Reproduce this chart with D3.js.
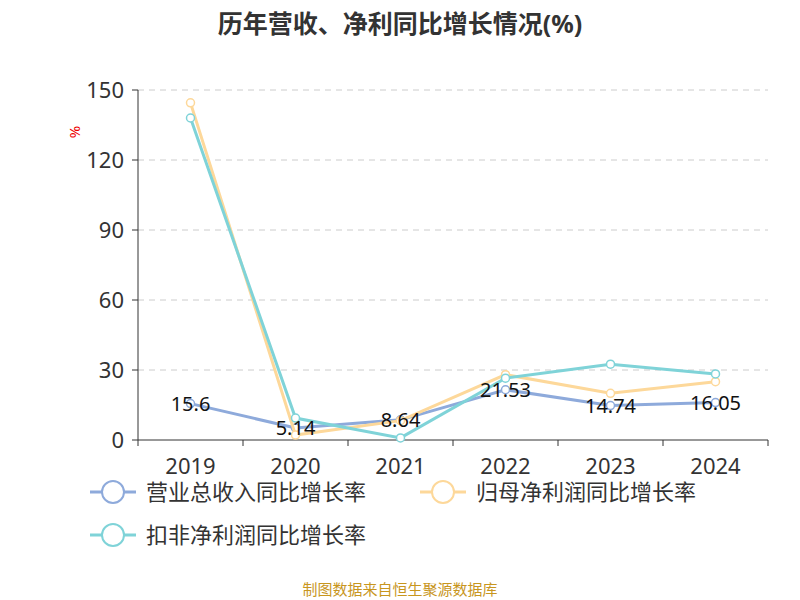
<!DOCTYPE html>
<html><head><meta charset="utf-8">
<script src="https://cdn.jsdelivr.net/npm/d3@7/dist/d3.min.js"></script>
<style>body{margin:0;background:#fff;font-family:"Noto Sans","Noto Sans CJK SC",sans-serif;}</style>
</head><body>
<svg id="chart" width="800" height="600"></svg>
<script>
// Chart data
var YEARS = ['2019', '2020', '2021', '2022', '2023', '2024'];
var REVENUE = [15.6, 5.14, 8.64, 21.53, 14.74, 16.05];
var NET_PROFIT = [144.5, 2.1, 8.3, 28, 20, 25];
var DEDUCTED = [138, 9.4, 0.9, 26.5, 32.5, 28.3];
var Y_TICKS = [0, 30, 60, 90, 120, 150];
var NAMES = ['营业总收入同比增长率', '归母净利润同比增长率', '扣非净利润同比增长率'];
var COLORS = ['#8eaadb', '#fdd89a', '#7fd3d8'];

let svg = d3.select('#chart');

let x = d3.scaleBand().domain(YEARS).range([138, 768]);
let y = d3.scaleLinear().domain([0, 150]).range([440, 90]);

// Title
svg.append('text').attr('x', 400).attr('y', 33).attr('text-anchor', 'middle')
	.attr('font-size', 25).attr('font-weight', 'bold').attr('fill', '#333')
	.text('历年营收、净利同比增长情况(%)');

// Grid
svg.selectAll('.grid').data(Y_TICKS.slice(1)).enter().append('line')
	.attr('x1', 138).attr('x2', 768).attr('y1', d => y(d)).attr('y2', d => y(d))
	.attr('stroke', '#ccc').attr('stroke-dasharray', '6,5');

// Y axis
svg.append('line').attr('x1', 138).attr('x2', 138).attr('y1', 90).attr('y2', 440).attr('stroke', '#333');
svg.selectAll('.ytick').data(Y_TICKS).enter().append('line')
	.attr('x1', 132).attr('x2', 138).attr('y1', d => y(d)).attr('y2', d => y(d)).attr('stroke', '#333');
svg.selectAll('.ylab').data(Y_TICKS).enter().append('text')
	.attr('x', 124).attr('y', d => y(d) + 8).attr('text-anchor', 'end')
	.attr('font-size', 22).attr('fill', '#333').text(d => d);
svg.append('text').attr('transform', 'translate(80,132) rotate(-90)')
	.attr('text-anchor', 'middle').attr('font-size', 15).attr('fill', '#e00').text('%');

// X axis
svg.append('line').attr('x1', 138).attr('x2', 768).attr('y1', 440).attr('y2', 440).attr('stroke', '#333');
svg.selectAll('.xtick').data(YEARS.concat(['end'])).enter().append('line')
	.attr('x1', (d, i) => 138 + i * x.bandwidth()).attr('x2', (d, i) => 138 + i * x.bandwidth())
	.attr('y1', 440).attr('y2', 446).attr('stroke', '#333');
svg.selectAll('.xlab').data(YEARS).enter().append('text')
	.attr('x', d => x(d) + x.bandwidth() / 2).attr('y', 474).attr('text-anchor', 'middle')
	.attr('font-size', 22).attr('fill', '#333').text(d => d);

// Lines
let line = d3.line().x((d, i) => x(YEARS[i]) + x.bandwidth() / 2).y(d => y(d));
[REVENUE, NET_PROFIT, DEDUCTED].forEach((series, k) => {
	svg.append('path').datum(series).attr('d', line).attr('fill', 'none')
		.attr('stroke', COLORS[k]).attr('stroke-width', 3);
	svg.selectAll('.dot' + k).data(series).enter().append('circle')
		.attr('cx', (d, i) => x(YEARS[i]) + x.bandwidth() / 2).attr('cy', d => y(d))
		.attr('r', 4).attr('fill', '#fff').attr('stroke', COLORS[k]).attr('stroke-width', 1.5);
});

// Labels for revenue
svg.selectAll('.vlab').data(REVENUE).enter().append('text')
	.attr('x', (d, i) => x(YEARS[i]) + x.bandwidth() / 2).attr('y', d => y(d) + 7)
	.attr('text-anchor', 'middle').attr('font-size', 20).attr('fill', '#111').text(d => d);

// Legend
let legendPos = [[90, 492], [420, 492], [90, 535]];
NAMES.forEach((name, k) => {
	let g = svg.append('g').attr('transform', 'translate(' + legendPos[k][0] + ',' + legendPos[k][1] + ')');
	g.append('line').attr('x1', 0).attr('x2', 46).attr('stroke', COLORS[k]).attr('stroke-width', 3);
	g.append('circle').attr('cx', 23).attr('r', 11).attr('fill', '#fff')
		.attr('stroke', COLORS[k]).attr('stroke-width', 2);
	g.append('text').attr('x', 56).attr('y', 8).attr('font-size', 22).attr('fill', '#333').text(name);
});

// Footer
svg.append('text').attr('x', 400).attr('y', 595).attr('text-anchor', 'middle')
	.attr('font-size', 15).attr('fill', '#c8961e').text('制图数据来自恒生聚源数据库');
</script>
</body></html>
